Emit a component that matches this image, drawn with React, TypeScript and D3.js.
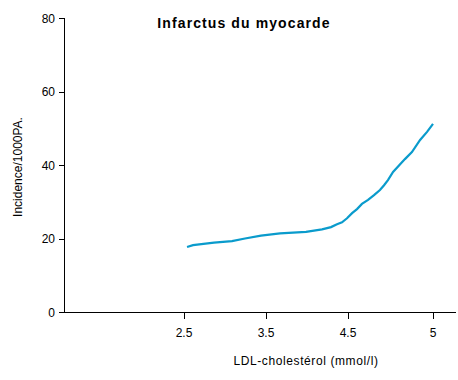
import React from "react";
import * as d3 from "d3";

const ldl = [2.537, 2.61, 2.866, 3.085, 3.244, 3.439, 3.671, 3.988, 4.183, 4.293, 4.366, 4.427, 4.488, 4.524, 4.553, 4.582, 4.618, 4.653, 4.688, 4.712, 4.735, 4.765, 4.835, 4.876, 4.924, 4.965, 5.0];
const incidence = [17.7, 18.2, 18.9, 19.3, 20.0, 20.8, 21.4, 21.8, 22.5, 23.1, 23.9, 24.4, 25.5, 26.9, 28.0, 29.4, 30.5, 31.8, 33.2, 34.5, 35.9, 38.1, 41.6, 43.5, 46.8, 49.0, 51.2];
const xTickValues = [2.5, 3.5, 4.5, 5];
const xTickLabels = ["2.5", "3.5", "4.5", "5"];
const yTickValues = [0, 20, 40, 60, 80];
const title = "Infarctus du myocarde";
const xTitle = "LDL-cholestérol (mmol/l)";
const yTitle = "Incidence/1000PA.";

export default function App() {
  const W = 458, H = 380;
  const x0 = 64, xEnd = 456, y0 = 312, yTop = 18;
  const x = d3.scaleLinear().domain([2.5, 3.5, 4.5, 5]).range([184, 266, 348, 433]);
  const y = d3.scaleLinear().domain([0, 80]).range([y0, yTop]);
  const line = d3.line<number>().x((d, i) => x(ldl[i])).y((d) => y(d));
  const font = "Liberation Sans, Arial, sans-serif";
  return (
    <svg width={W} height={H} style={{ position: "absolute", left: 0, top: 0, background: "#fff" }} fontFamily={font}>
      <text x={244} y={28} textAnchor="middle" fontSize={14} fontWeight="bold" letterSpacing={1.1} fill="#000">{title}</text>
      <line x1={x0 + 0.5} x2={x0 + 0.5} y1={yTop} y2={y0} stroke="#000" />
      <line x1={x0} x2={xEnd} y1={y0 + 0.5} y2={y0 + 0.5} stroke="#000" />
      {yTickValues.map((v) => (
        <g key={v}>
          <line x1={59} x2={x0} y1={Math.round(y(v)) + 0.5} y2={Math.round(y(v)) + 0.5} stroke="#000" />
          <text x={55} y={y(v) + 4.5} textAnchor="end" fontSize={12} fill="#000">{v}</text>
        </g>
      ))}
      {xTickValues.map((v, i) => (
        <g key={v}>
          <line x1={Math.round(x(v)) + 0.5} x2={Math.round(x(v)) + 0.5} y1={y0} y2={y0 + 7} stroke="#000" />
          <text x={x(v)} y={337} textAnchor="middle" fontSize={12} fill="#000">{xTickLabels[i]}</text>
        </g>
      ))}
      <text x={306} y={365} textAnchor="middle" fontSize={12} letterSpacing={0.6} fill="#000">{xTitle}</text>
      <text transform={`translate(22,167) rotate(-90)`} textAnchor="middle" fontSize={12} fill="#000">{yTitle}</text>
      <path d={line(incidence) || ""} fill="none" stroke="#0a9bcc" strokeWidth={2.2} />
    </svg>
  );
}
